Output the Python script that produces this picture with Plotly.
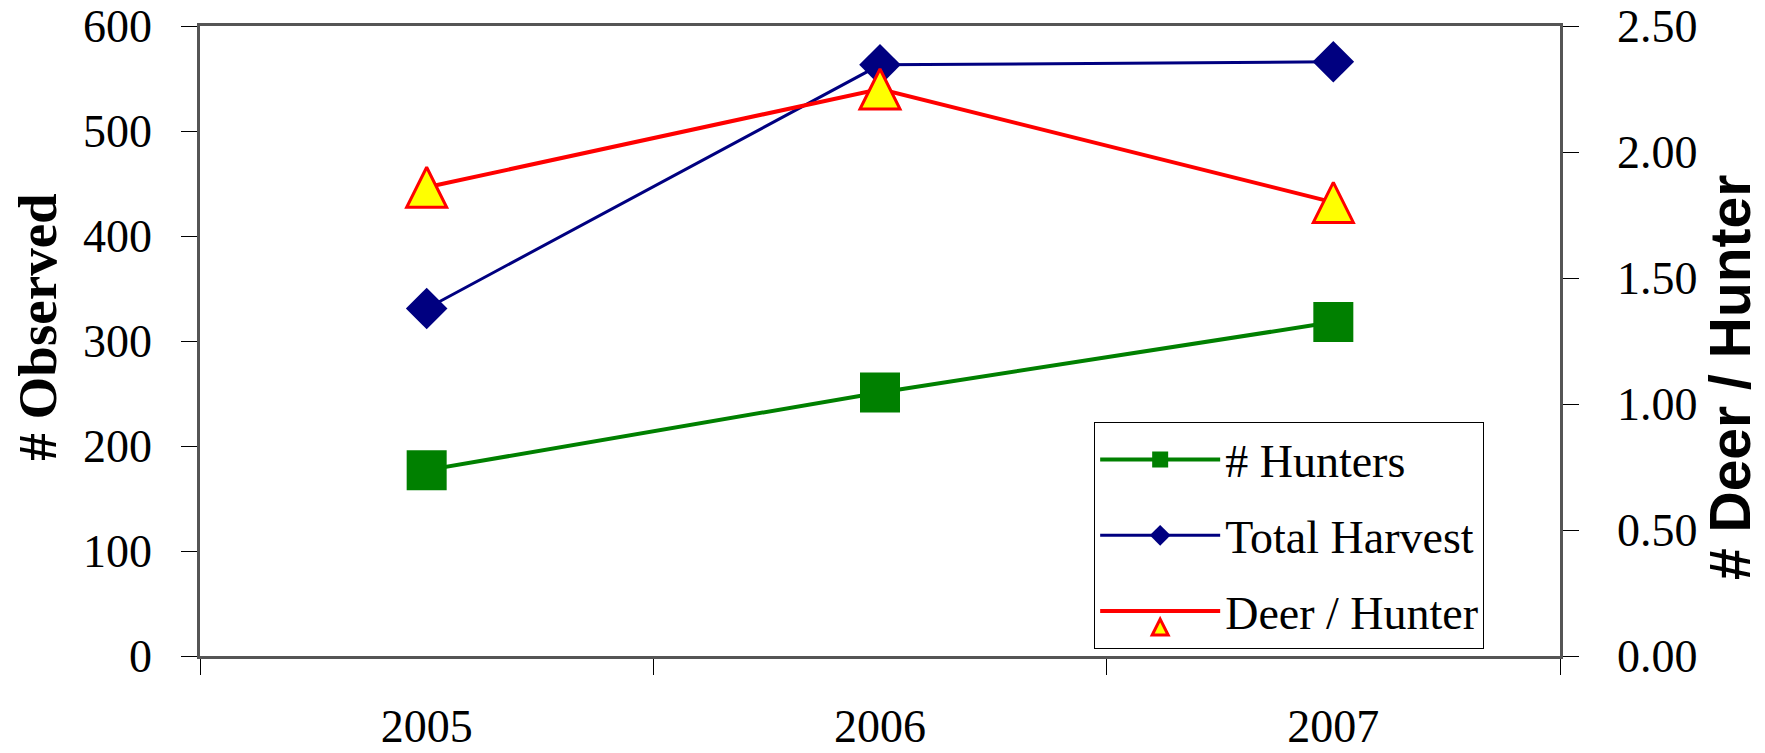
import plotly.graph_objects as go

years = ["2005", "2006", "2007"]
hunters = [177, 251, 318]
total_harvest = [331, 563, 566]
deer_per_hunter = [1.86, 2.25, 1.80]

left_ticks = [0, 100, 200, 300, 400, 500, 600]
right_ticks = [0.0, 0.5, 1.0, 1.5, 2.0, 2.5]

SERIF = "Liberation Serif, Times New Roman, serif"
SANS = "Liberation Sans, Arial, sans-serif"
AX = "#555555"

# page body has an 8px margin; the figure is drawn from (8, 8)
OFF = 8
L, R, T, B = 199.5, 1560.0, 25.7, 656.0
W, H = 1765 - OFF, 753 - OFF
PW, PH = R - L, B - T


def px_x(x):
    return (x - L) / PW


def px_y(y):
    return (B - y) / PH


fig = go.Figure()

fig.add_trace(go.Scatter(
    x=years, y=hunters, name="# Hunters", mode="lines+markers",
    line=dict(color="#008000", width=4),
    marker=dict(symbol="square", size=40, color="#008000"),
    legendgroup="a", yaxis="y",
))
fig.add_trace(go.Scatter(
    x=years, y=total_harvest, name="Total Harvest", mode="lines+markers",
    line=dict(color="#000080", width=3),
    marker=dict(symbol="diamond", size=32, color="#000080"),
    legendgroup="b", yaxis="y",
))
fig.add_trace(go.Scatter(
    x=years, y=deer_per_hunter, name="Deer / Hunter", mode="lines+markers",
    line=dict(color="#FF0000", width=4, backoff=0),
    marker=dict(symbol="arrow-down", angle=180, size=40, standoff=20,
                color="#FFFF00", line=dict(color="#FF0000", width=3)),
    legendgroup="c", yaxis="y2", showlegend=False,
))
# legend entry for the Deer / Hunter series (legend markers are drawn smaller)
fig.add_trace(go.Scatter(
    x=[None], y=[None], name="Deer / Hunter", mode="lines+markers",
    line=dict(color="#FF0000", width=4, backoff=0),
    marker=dict(symbol="arrow-down", angle=180, size=16, standoff=8,
                color="#FFFF00", line=dict(color="#FF0000", width=3)),
    legendgroup="c", yaxis="y2", showlegend=True,
))

common_tick = dict(ticklen=16, tickwidth=1, tickcolor="black",
                   showgrid=False, zeroline=False, automargin=False)

fig.update_layout(
    width=W, height=H,
    margin=dict(l=L - OFF, r=1765 - R, t=T - OFF, b=753 - B, autoexpand=False),
    paper_bgcolor="white", plot_bgcolor="white",
    font=dict(family=SERIF, size=46, color="black"),
    xaxis=dict(
        type="category", range=[-0.5, 2.5], tickson="boundaries",
        ticks="outside", showline=True, linecolor=AX, linewidth=2.5,
        mirror=True, ticklabelstandoff=28, ticklabeloverflow="allow",
        tickfont=dict(family=SERIF, size=46), **common_tick,
    ),
    xaxis2=dict(
        overlaying="x", range=[-0.5, 2.5], tickvals=[-0.5, 0.5, 1.5, 2.5],
        ticks="inside", showticklabels=False, showline=False, anchor="y",
        **common_tick,
    ),
    yaxis=dict(
        range=[0, 600], tickvals=left_ticks, ticks="outside",
        showline=True, linecolor=AX, linewidth=2.5, ticklabelstandoff=20,
        ticklabeloverflow="allow",
        tickfont=dict(family=SERIF, size=46), **common_tick,
    ),
    yaxis2=dict(
        overlaying="y", side="right", range=[0, 2.5], tickvals=right_ticks,
        tickformat=".2f", ticks="outside",
        showline=True, linecolor=AX, linewidth=2.5, ticklabelstandoff=29,
        ticklabeloverflow="allow",
        tickfont=dict(family=SERIF, size=46), **common_tick,
    ),
    yaxis3=dict(
        overlaying="y", side="left", range=[0, 600], tickvals=left_ticks,
        ticks="inside", showticklabels=False, showline=False, **common_tick,
    ),
    yaxis4=dict(
        overlaying="y", side="right", range=[0, 2.5], tickvals=right_ticks,
        ticks="inside", showticklabels=False, showline=False, **common_tick,
    ),
    legend=dict(
        x=px_x(1094), y=px_y(422), xanchor="left", yanchor="top",
        bgcolor="white", bordercolor="black", borderwidth=1,
        font=dict(family=SERIF, size=46, color="black"),
        tracegroupgap=13, itemwidth=120,
    ),
    showlegend=True,
    annotations=[
        dict(text="<b># Observed</b>", xref="paper", yref="paper",
             x=px_x(37), y=px_y(327), xanchor="center", yanchor="middle",
             textangle=-90, showarrow=False,
             font=dict(family=SERIF, size=55, color="black")),
        dict(text="<b># Deer / Hunter</b>", xref="paper", yref="paper",
             x=px_x(1730), y=px_y(377), xanchor="center", yanchor="middle",
             textangle=-90, showarrow=False,
             font=dict(family=SANS, size=57, color="black")),
    ],
)

fig.write_html("out.html")
